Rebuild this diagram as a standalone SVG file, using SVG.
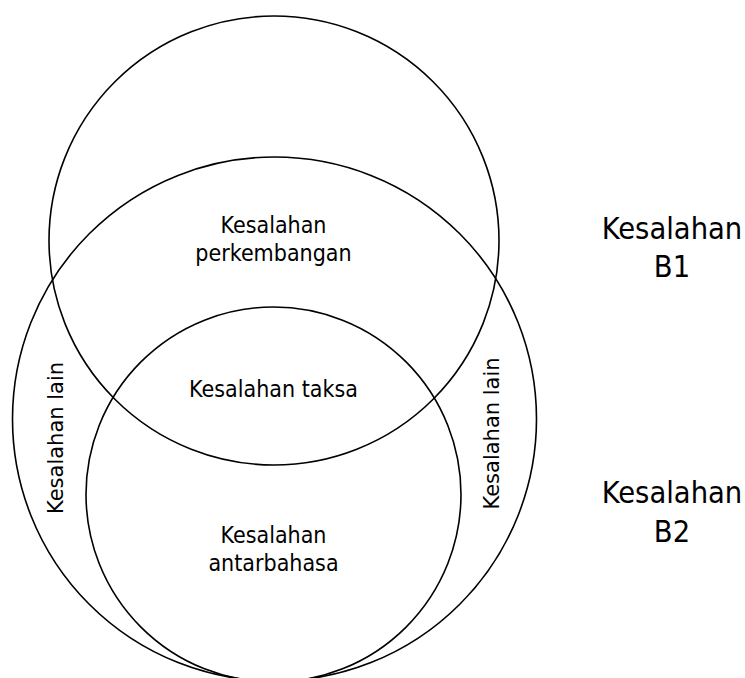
<svg xmlns="http://www.w3.org/2000/svg" width="745" height="678" viewBox="0 0 745 678">
<style>
.c{fill:none;stroke:#000;stroke-width:1.6}
.t{font-family:"DejaVu Sans Condensed","DejaVu Sans",sans-serif;font-size:23px;fill:#000;text-anchor:middle}
.b{font-family:"DejaVu Sans Condensed","DejaVu Sans",sans-serif;font-size:30.5px;fill:#000;text-anchor:middle}
.r{font-family:"DejaVu Sans",Verdana,sans-serif;font-size:21px;fill:#000;text-anchor:middle}
</style>
<rect width="745" height="678" fill="#fff"/>
<g id="b1">
<ellipse class="c" cx="274" cy="240.5" rx="225" ry="224.5"/>
<text class="t" x="273.5" y="233">Kesalahan</text>
<text class="t" x="273.5" y="261">perkembangan</text>
</g>
<g id="b2">
<ellipse class="c" cx="274.5" cy="419" rx="262" ry="262"/>
<text class="r" transform="translate(63,438) rotate(-90)">Kesalahan lain</text>
<text class="r" transform="translate(499,433.5) rotate(-90)">Kesalahan lain</text>
</g>
<g id="antar">
<ellipse class="c" cx="273.5" cy="494.5" rx="187.5" ry="187.5"/>
<text class="t" x="273.5" y="397">Kesalahan taksa</text>
<text class="t" x="273.5" y="543">Kesalahan</text>
<text class="t" x="273.5" y="571">antarbahasa</text>
</g>
<g id="legend">
<text class="b" x="672" y="239">Kesalahan</text>
<text class="b" x="672" y="277">B1</text>
<text class="b" x="672" y="503">Kesalahan</text>
<text class="b" x="672" y="542">B2</text>
</g>
</svg>
